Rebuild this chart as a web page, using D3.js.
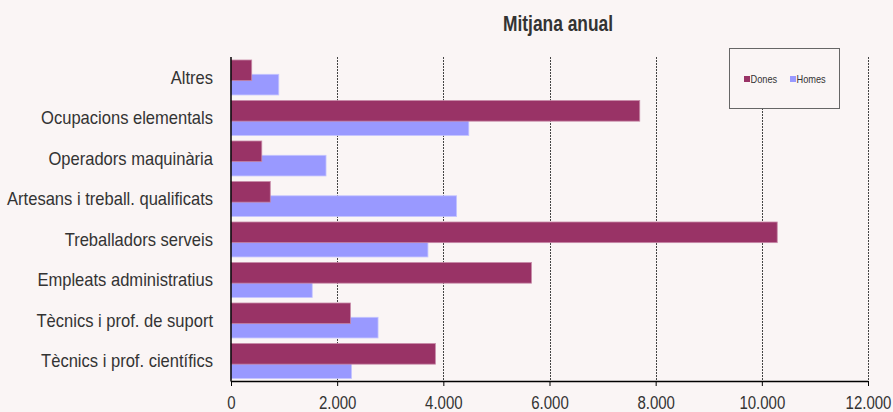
<!DOCTYPE html>
<meta charset="utf-8">
<style>
    body { margin: 0; background: #faf5f5; }
    svg { display: block; font-family: "Liberation Sans", Arial, sans-serif; }
</style>
<script src="https://cdn.jsdelivr.net/npm/d3@7"></script>
<body>
<script>
// chart data
var categories = ["Altres", "Ocupacions elementals", "Operadors maquinària",
    "Artesans i treball. qualificats", "Treballadors serveis",
    "Empleats administratius", "Tècnics i prof. de suport", "Tècnics i prof. científics"];
var dones = [390, 7700, 580, 740, 10290, 5660, 2250, 3850];
var homes = [900, 4480, 1790, 4250, 3710, 1530, 2770, 2270];
var seriesNames = ["Dones", "Homes"];
var tickValues = [0, 2000, 4000, 6000, 8000, 10000, 12000];
var title = "Mitjana anual";

var width = 893, height = 412;
var colors = {Dones: "#993366", Homes: "#9999ff"};
var edges = {Dones: "#c78aa8", Homes: "#c4c4ff"};

var svg = d3.select("body").append("svg")
    .attr("width", width)
    .attr("height", height);

svg.append("rect")
    .attr("width", width)
    .attr("height", height)
    .attr("fill", "#faf5f5");

var x = d3.scaleLinear().domain([0, 12000]).range([231, 868]);
var y = d3.scaleBand().domain(categories).range([57, 381]);
var bw = y.bandwidth();

var loc = d3.formatLocale({decimal: ",", thousands: ".", grouping: [3], currency: ["", ""]});
var fmt = loc.format(",.0f");

// dashed vertical gridlines
svg.selectAll(".grid")
    .data(tickValues.filter(function(d) { return d > 0; }))
    .enter().append("line")
    .attr("class", "grid")
    .attr("x1", function(d) { return Math.round(x(d)) + 0.5; })
    .attr("x2", function(d) { return Math.round(x(d)) + 0.5; })
    .attr("y1", 57)
    .attr("y2", 381)
    .attr("stroke", "#444")
    .attr("stroke-dasharray", "2,1");

// bars: homes underneath, dones on top
var rows = categories.map(function(c, i) {
    return {cat: c, Dones: dones[i], Homes: homes[i]};
});

var offsets = {Dones: bw * 0.074, Homes: bw * 0.427};
var barH = bw * 0.51;

["Homes", "Dones"].forEach(function(s) {
    svg.selectAll(".bar-" + s)
        .data(rows)
        .enter().append("rect")
        .attr("class", "bar-" + s)
        .attr("x", x(0))
        .attr("y", function(d) { return y(d.cat) + offsets[s]; })
        .attr("width", function(d) { return x(d[s]) - x(0); })
        .attr("height", barH)
        .attr("fill", colors[s])
        .attr("stroke", edges[s])
        .attr("stroke-width", 0.8);
});

// bottom axis
var xAxis = d3.axisBottom(x)
    .tickValues(tickValues)
    .tickFormat(fmt)
    .tickSize(5)
    .tickSizeOuter(0);

var gx = svg.append("g")
    .attr("transform", "translate(0,381)")
    .call(xAxis);
gx.select(".domain").attr("stroke", "#000").attr("stroke-width", 1.5);
gx.selectAll(".tick line").attr("stroke", "#000");
gx.selectAll(".tick text")
    .attr("y", 0)
    .attr("dy", 0)
    .attr("transform", "translate(0,27.5) scale(0.79,1)")
    .attr("font-size", "19px")
    .attr("font-family", "Liberation Sans, Arial, sans-serif")
    .attr("fill", "#333");

// left axis line
svg.append("line")
    .attr("x1", x(0)).attr("x2", x(0))
    .attr("y1", 57).attr("y2", 381.5)
    .attr("stroke", "#000")
    .attr("stroke-width", 1.5);

// category labels
svg.selectAll(".cat")
    .data(categories)
    .enter().append("text")
    .attr("class", "cat")
    .attr("transform", function(d) {
        return "translate(213," + (y(d) + bw / 2 + 6.7) + ") scale(0.89,1)";
    })
    .attr("text-anchor", "end")
    .attr("font-size", "18.6px")
    .attr("fill", "#333")
    .text(function(d) { return d; });

// title
svg.append("text")
    .attr("transform", "translate(558,31) scale(0.79,1)")
    .attr("text-anchor", "middle")
    .attr("font-size", "22px")
    .attr("font-weight", "bold")
    .attr("fill", "#333")
    .text(title);

// legend
var legend = svg.append("g");
legend.append("rect")
    .attr("x", 729.5).attr("y", 48.5)
    .attr("width", 110).attr("height", 60)
    .attr("fill", "#faf5f5")
    .attr("stroke", "#666");

var legX = [744, 790];
seriesNames.forEach(function(s, i) {
    legend.append("rect")
        .attr("x", legX[i]).attr("y", 76)
        .attr("width", 6).attr("height", 6)
        .attr("fill", colors[s]);
    legend.append("text")
        .attr("transform", "translate(" + (legX[i] + 6.5) + ",82.5) scale(0.88,1)")
        .attr("font-size", "10.5px")
        .attr("fill", "#333")
        .text(s);
});
</script>
</body>
